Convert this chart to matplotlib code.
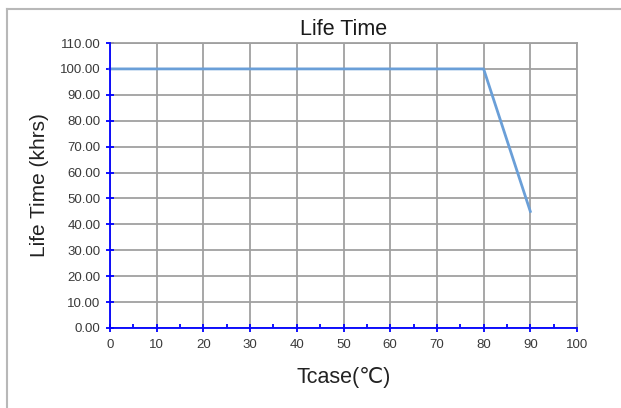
import matplotlib
matplotlib.use("Agg")
import matplotlib.pyplot as plt
from matplotlib.ticker import MultipleLocator, FormatStrFormatter
from matplotlib.lines import Line2D

plt.rcParams['font.family'] = ['Liberation Sans', 'DejaVu Sans']

tcase = [0, 80, 90]
life = [100, 100, 45]
x_ticks = list(range(0, 101, 10))
y_ticks = list(range(0, 111, 10))

fig = plt.figure(figsize=(6.21, 4.08), dpi=100)
ax = fig.add_axes([110/621, 1-328/408, 467/621, 285/408])

# outer frame (left and top visible)
fig.add_artist(Line2D([7/621, 7/621], [0, 1-9/408], transform=fig.transFigure, color='#b8b8b8', lw=1.5))
fig.add_artist(Line2D([7/621, 1], [1-9/408, 1-9/408], transform=fig.transFigure, color='#b8b8b8', lw=1.5))

ax.plot(tcase, life, color='#6a9fd8', lw=2, zorder=3, clip_on=False)

ax.set_xlim(0, 100)
ax.set_ylim(0, 110)
ax.set_xticks(x_ticks)
ax.set_yticks(y_ticks)
ax.xaxis.set_minor_locator(MultipleLocator(5))
ax.yaxis.set_major_formatter(FormatStrFormatter('%.2f'))
ax.grid(True, which='major', color='#a0a0a0', lw=1.3, zorder=1)
ax.set_axisbelow(True)

for s in ['top', 'right']:
    ax.spines[s].set_color('#a0a0a0')
    ax.spines[s].set_linewidth(1.3)
for s in ['left', 'bottom']:
    ax.spines[s].set_color('#0000ff')
    ax.spines[s].set_linewidth(1.3)
    ax.spines[s].set_zorder(4)

ax.tick_params(axis='both', which='major', direction='inout', color='#0000ff', width=1.3,
               length=5.5, labelsize=9.5, labelcolor='#3a3a3a')
ax.tick_params(axis='x', which='minor', direction='in', color='#0000ff', width=1.3, length=3.2)
ax.tick_params(axis='x', which='major', pad=5)
ax.tick_params(axis='y', which='major', pad=4)

ax.set_title('Life Time', fontsize=15.5, color='#1a1a1a', pad=6)
ax.set_xlabel('Tcase(℃)', fontsize=15.5, color='#222222', labelpad=12)
ax.set_ylabel('Life Time (khrs)', fontsize=15, color='#222222', labelpad=8)

fig.savefig('out.png', dpi=100)
